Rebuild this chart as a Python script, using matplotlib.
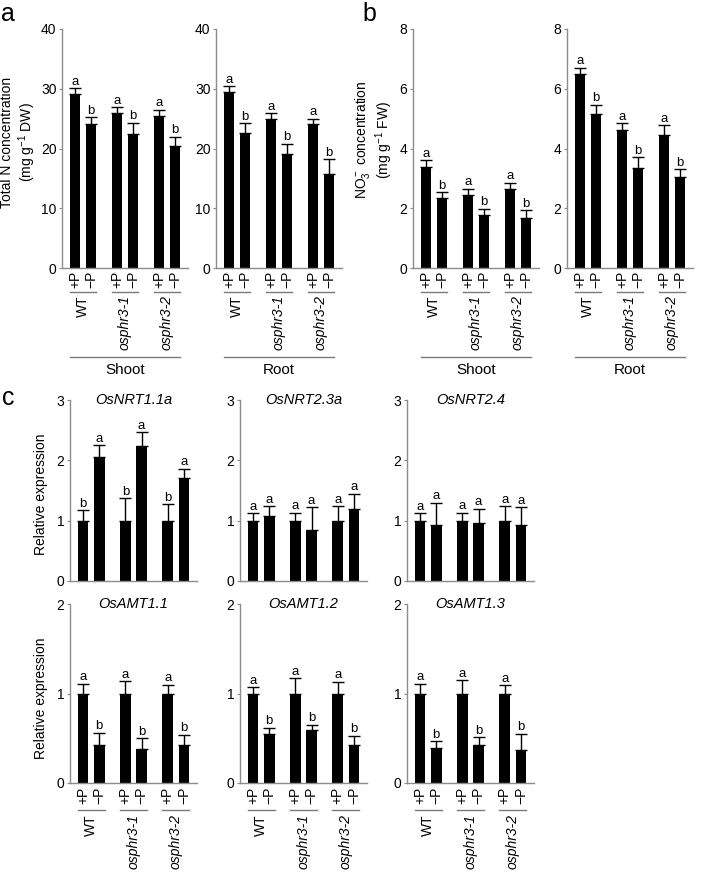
import matplotlib
matplotlib.use('Agg')
import matplotlib.pyplot as plt
from matplotlib.transforms import blended_transform_factory
from matplotlib.lines import Line2D
import numpy as np

plt.rcParams['font.family'] = ['Liberation Sans', 'DejaVu Sans']
plt.rcParams['mathtext.fontset'] = 'custom'
plt.rcParams['mathtext.rm'] = 'Liberation Sans'
plt.rcParams['mathtext.it'] = 'Liberation Sans:italic'
plt.rcParams['mathtext.bf'] = 'Liberation Sans:bold'

W, H = 709, 874
fig = plt.figure(figsize=(W / 100, H / 100), dpi=100)

# ---------------- data ----------------
genotypes = ['WT', 'osphr3-1', 'osphr3-2']
treatments = ['+P', '\u2212P']

totalN_shoot = [29.2, 24.1, 26.0, 22.5, 25.5, 20.4]
totalN_shoot_err = [0.9, 1.1, 0.9, 1.8, 1.0, 1.6]
totalN_shoot_sig = ['a', 'b', 'a', 'b', 'a', 'b']
totalN_root = [29.4, 22.6, 24.9, 19.0, 24.1, 15.7]
totalN_root_err = [1.0, 1.6, 1.0, 1.8, 0.9, 2.5]
totalN_root_sig = ['a', 'b', 'a', 'b', 'a', 'b']

no3_shoot = [3.37, 2.34, 2.46, 1.76, 2.64, 1.66]
no3_shoot_err = [0.24, 0.19, 0.19, 0.23, 0.21, 0.27]
no3_shoot_sig = ['a', 'b', 'a', 'b', 'a', 'b']
no3_root = [6.50, 5.14, 4.63, 3.34, 4.44, 3.03]
no3_root_err = [0.20, 0.32, 0.22, 0.37, 0.33, 0.27]
no3_root_sig = ['a', 'b', 'a', 'b', 'a', 'b']

genes_top = ['OsNRT1.1a', 'OsNRT2.3a', 'OsNRT2.4']
nrt11a = [1.0, 2.06, 1.0, 2.23, 1.0, 1.71]
nrt11a_err = [0.17, 0.19, 0.37, 0.24, 0.27, 0.15]
nrt11a_sig = ['b', 'a', 'b', 'a', 'b', 'a']
nrt23a = [1.0, 1.07, 1.0, 0.85, 1.0, 1.20]
nrt23a_err = [0.12, 0.17, 0.13, 0.37, 0.24, 0.25]
nrt23a_sig = ['a', 'a', 'a', 'a', 'a', 'a']
nrt24 = [1.0, 0.93, 1.0, 0.96, 1.0, 0.93]
nrt24_err = [0.12, 0.37, 0.13, 0.24, 0.24, 0.29]
nrt24_sig = ['a', 'a', 'a', 'a', 'a', 'a']

genes_bottom = ['OsAMT1.1', 'OsAMT1.2', 'OsAMT1.3']
amt11 = [1.0, 0.43, 1.0, 0.38, 1.0, 0.42]
amt11_err = [0.11, 0.13, 0.14, 0.12, 0.10, 0.12]
amt11_sig = ['a', 'b', 'a', 'b', 'a', 'b']
amt12 = [1.0, 0.55, 1.0, 0.59, 1.0, 0.43]
amt12_err = [0.07, 0.07, 0.17, 0.06, 0.13, 0.10]
amt12_sig = ['a', 'b', 'a', 'b', 'a', 'b']
amt13 = [1.0, 0.39, 1.0, 0.42, 1.0, 0.37]
amt13_err = [0.11, 0.08, 0.15, 0.09, 0.09, 0.18]
amt13_sig = ['a', 'b', 'a', 'b', 'a', 'b']

tissues = ['Shoot', 'Root']

# ---------------- helpers ----------------
GRAY = '#8c8c8c'
LINEGRAY = '#7a7a7a'
OFF = 0.19
BW = 0.25


def fy(ypx):
    return 1 - ypx / H


def make_ax(x0, y0, x1, y1):
    return fig.add_axes([x0 / W, 1 - y1 / H, (x1 - x0) / W, (y1 - y0) / H])


def draw(ax, vals, errs, sig, ymax, yticks, title=None):
    xs = []
    for i in range(len(vals)):
        g = i // 2
        xs.append(g - OFF if i % 2 == 0 else g + OFF)
    xs = np.array(xs)
    vals = np.array(vals)
    errs = np.array(errs)
    ax.bar(xs, vals, width=BW, color='black', zorder=2)
    ax.errorbar(xs, vals, yerr=[np.zeros_like(errs), errs], fmt='none',
                ecolor='black', elinewidth=1.0, capsize=4.2, capthick=1.0, zorder=3)
    for x, v, e, s in zip(xs, vals, errs, sig):
        ax.annotate(s, (x, v + e), xytext=(0, 0.3), textcoords='offset points',
                    ha='center', va='bottom', fontsize=9.5)
    ax.set_xlim(-0.5, 2.5)
    ax.set_ylim(0, ymax)
    ax.set_yticks(yticks)
    ax.set_xticks([])
    for sp in ['top', 'right']:
        ax.spines[sp].set_visible(False)
    for sp in ['left', 'bottom']:
        ax.spines[sp].set_color(GRAY)
        ax.spines[sp].set_linewidth(1.0)
    ax.tick_params(axis='y', length=2.5, width=0.8, color=GRAY, labelsize=10, pad=1.5)
    if title:
        ax.text(0.5, 1.0, title, transform=ax.transAxes, ha='center', va='center',
                fontsize=10.5, style='italic')
    return xs


def xlabels(ax, y_pm, y_gline, y_glab, y_long=None, tissue=None, y_tis=None):
    tr = blended_transform_factory(ax.transData, fig.transFigure)
    for g in range(3):
        for k, t in enumerate(treatments):
            x = g - OFF if k == 0 else g + OFF
            fig.text(x, fy(y_pm), t, transform=tr, rotation=90, ha='center', va='top',
                     fontsize=10)
        fig.add_artist(Line2D([g - 0.32, g + 0.32], [fy(y_gline)] * 2, transform=tr,
                              color=LINEGRAY, lw=1.0))
        fig.text(g, fy(y_glab), genotypes[g], transform=tr, rotation=90, ha='center',
                 va='top', fontsize=10, style='normal' if g == 0 else 'italic')
    if tissue is not None:
        fig.add_artist(Line2D([-0.32, 2.32], [fy(y_long)] * 2, transform=tr,
                              color=LINEGRAY, lw=1.0))
        fig.text(1, fy(y_tis), tissue, transform=tr, ha='center', va='center',
                 fontsize=11)


# ---------------- panel a ----------------
axa1 = make_ax(62, 29, 188, 268)
draw(axa1, totalN_shoot, totalN_shoot_err, totalN_shoot_sig, 40, [0, 10, 20, 30, 40])
xlabels(axa1, 271, 292, 295, 357, tissues[0], 370)
axa2 = make_ax(216, 29, 342, 268)
draw(axa2, totalN_root, totalN_root_err, totalN_root_sig, 40, [0, 10, 20, 30, 40])
xlabels(axa2, 271, 292, 295, 357, tissues[1], 370)

fig.text(19 / W, fy(142), 'Total N concentration\n(mg g$^{-1}$ DW)', rotation=90,
         ha='center', va='center', multialignment='center', fontsize=10, linespacing=1.15)

# ---------------- panel b ----------------
axb1 = make_ax(413, 29, 539, 268)
draw(axb1, no3_shoot, no3_shoot_err, no3_shoot_sig, 8, [0, 2, 4, 6, 8])
xlabels(axb1, 271, 292, 295, 357, tissues[0], 370)
axb2 = make_ax(567, 29, 693, 268)
draw(axb2, no3_root, no3_root_err, no3_root_sig, 8, [0, 2, 4, 6, 8])
xlabels(axb2, 271, 292, 295, 357, tissues[1], 370)

fig.text(374 / W, fy(140), 'NO$_3^-$ concentration\n(mg g$^{-1}$ FW)', rotation=90,
         ha='center', va='center', multialignment='center', fontsize=10, linespacing=1.15)

# ---------------- panel c ----------------
top_data = [(nrt11a, nrt11a_err, nrt11a_sig), (nrt23a, nrt23a_err, nrt23a_sig),
            (nrt24, nrt24_err, nrt24_sig)]
bot_data = [(amt11, amt11_err, amt11_sig), (amt12, amt12_err, amt12_sig),
            (amt13, amt13_err, amt13_sig)]
xcols = [(70, 197), (240, 367), (407, 534)]

for (x0, x1), gname, (v, e, s) in zip(xcols, genes_top, top_data):
    ax = make_ax(x0, 400, x1, 581)
    draw(ax, v, e, s, 3, [0, 1, 2, 3], title=gname)

for (x0, x1), gname, (v, e, s) in zip(xcols, genes_bottom, bot_data):
    ax = make_ax(x0, 604, x1, 783)
    draw(ax, v, e, s, 2, [0, 1, 2], title=gname)
    xlabels(ax, 787, 810, 814)

fig.text(41 / W, fy(494), 'Relative expression', rotation=90, ha='center', va='center',
         fontsize=10)
fig.text(41 / W, fy(698), 'Relative expression', rotation=90, ha='center', va='center',
         fontsize=10)

# ---------------- panel letters ----------------
fig.text(8 / W, fy(14), 'a', ha='center', va='center', fontsize=18)
fig.text(369 / W, fy(14), 'b', ha='center', va='center', fontsize=18)
fig.text(8 / W, fy(398), 'c', ha='center', va='center', fontsize=18)

fig.savefig('out.png', dpi=100)
